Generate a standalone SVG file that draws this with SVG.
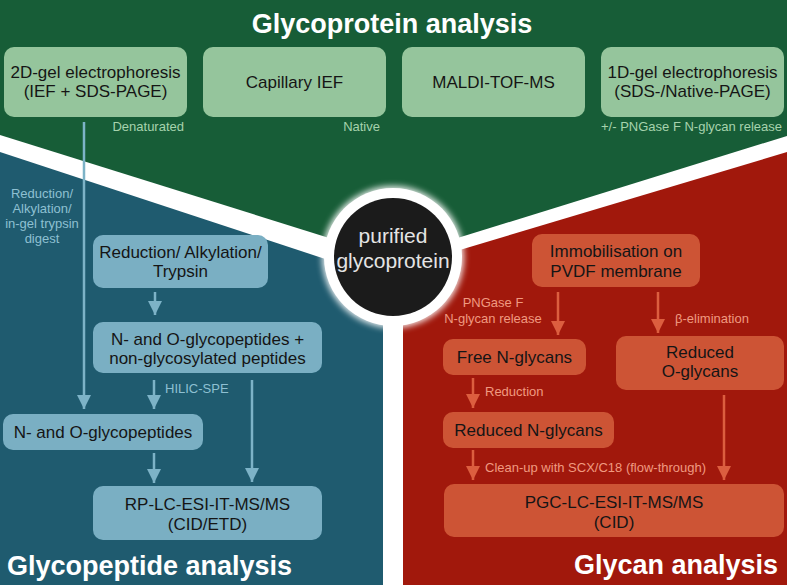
<svg xmlns="http://www.w3.org/2000/svg" width="787" height="585" viewBox="0 0 787 585">
<defs>
<style>
.box-g{fill:#95c59c}
.box-b{fill:#7aafc3}
.box-r{fill:#cd5435}
.t{font-family:"Liberation Sans",Arial,sans-serif;font-size:17px;fill:#151515;text-anchor:middle}
.lab{font-family:"Liberation Sans",Arial,sans-serif;font-size:13px}
.lg{fill:#a6d3ad}
.lb{fill:#8ec0d2}
.lr{fill:#f09a80}
.title{font-family:"Liberation Sans",Arial,sans-serif;font-size:27px;font-weight:bold;fill:#ffffff}
.cb{stroke:#7db3c7;stroke-width:2.5;fill:none}
.cr{stroke:#dc5e3f;stroke-width:2.5;fill:none}
</style>
<marker id="ab" markerUnits="userSpaceOnUse" markerWidth="14" markerHeight="14" viewBox="0 0 14 14" refX="14" refY="7" orient="auto"><path d="M0,0 L14,7 L0,14 z" fill="#7db3c7"/></marker>
<marker id="ar" markerUnits="userSpaceOnUse" markerWidth="14" markerHeight="14" viewBox="0 0 14 14" refX="14" refY="7" orient="auto"><path d="M0,0 L14,7 L0,14 z" fill="#dc5e3f"/></marker>
<filter id="glow" x="-30%" y="-30%" width="160%" height="160%"><feGaussianBlur stdDeviation="3"/></filter>
</defs>
<rect width="787" height="585" fill="#ffffff"/>
<g id="regions">
<polygon points="0,0 787,0 787,136 393,258 0,135" fill="#175d37"/>
<polygon points="0,152 383,278 383,585 0,585" fill="#1f5b6f"/>
<polygon points="403,267 787,152 787,585 403,585" fill="#a1180c"/>
</g>
<g id="center">
<circle cx="393" cy="257" r="71" fill="#ffffff" filter="url(#glow)" opacity="0.9"/>
<circle cx="393" cy="257" r="69" fill="#ffffff"/>
<circle cx="393" cy="257" r="59" fill="#1b1b1b"/>
<text x="393" y="243" font-family="Liberation Sans,Arial,sans-serif" font-size="21" fill="#e4e4e4" text-anchor="middle">purified</text>
<text x="393" y="268" font-family="Liberation Sans,Arial,sans-serif" font-size="21" fill="#e4e4e4" text-anchor="middle">glycoprotein</text>
</g>
<text class="title" x="392" y="33" text-anchor="middle">Glycoprotein analysis</text>
<text class="title" x="7" y="575">Glycopeptide analysis</text>
<text class="title" x="778" y="574" text-anchor="end">Glycan analysis</text>
<g id="n-2dgel"><rect class="box-g" x="4" y="47" width="183" height="70" rx="10"/><text class="t" x="95.5" y="78">2D-gel electrophoresis</text><text class="t" x="95.5" y="97">(IEF + SDS-PAGE)</text></g>
<g id="n-cief"><rect class="box-g" x="203" y="47" width="183" height="70" rx="10"/><text class="t" x="294.5" y="88">Capillary IEF</text></g>
<g id="n-maldi"><rect class="box-g" x="402" y="47" width="183" height="70" rx="10"/><text class="t" x="493.5" y="88">MALDI-TOF-MS</text></g>
<g id="n-1dgel"><rect class="box-g" x="601" y="47" width="183" height="70" rx="10"/><text class="t" x="692.5" y="78">1D-gel electrophoresis</text><text class="t" x="692.5" y="97">(SDS-/Native-PAGE)</text></g>
<text class="lab lg" x="184" y="131" text-anchor="end">Denaturated</text>
<text class="lab lg" x="380" y="131" text-anchor="end">Native</text>
<text class="lab lg" x="782" y="131" text-anchor="end">+/- PNGase F N-glycan release</text>
<g id="n-redalk"><rect class="box-b" x="93" y="235" width="175" height="53" rx="10"/><text class="t" x="180.5" y="258">Reduction/ Alkylation/</text><text class="t" x="180.5" y="277">Trypsin</text></g>
<g id="n-mix"><rect class="box-b" x="93" y="322" width="229" height="51" rx="10"/><text class="t" x="207.5" y="345">N- and O-glycopeptides +</text><text class="t" x="207.5" y="364">non-glycosylated peptides</text></g>
<g id="n-glycopep"><rect class="box-b" x="3" y="414" width="200" height="36" rx="10"/><text class="t" x="103" y="438">N- and O-glycopeptides</text></g>
<g id="n-rplc"><rect class="box-b" x="93" y="486" width="229" height="54" rx="10"/><text class="t" x="207.5" y="510">RP-LC-ESI-IT-MS/MS</text><text class="t" x="207.5" y="530">(CID/ETD)</text></g>
<g id="n-pvdf"><rect class="box-r" x="532" y="234" width="168" height="53" rx="10"/><text class="t" x="616" y="257">Immobilisation on</text><text class="t" x="616" y="277">PVDF membrane</text></g>
<g id="n-freen"><rect class="box-r" x="443" y="339" width="143" height="36" rx="10"/><text class="t" x="514.5" y="363">Free N-glycans</text></g>
<g id="n-redo"><rect class="box-r" x="616" y="336" width="168" height="54" rx="10"/><text class="t" x="700" y="358">Reduced</text><text class="t" x="700" y="377">O-glycans</text></g>
<g id="n-redn"><rect class="box-r" x="443" y="412" width="171" height="36" rx="10"/><text class="t" x="528.5" y="436">Reduced N-glycans</text></g>
<g id="n-pgc"><rect class="box-r" x="444" y="484" width="340" height="53" rx="10"/><text class="t" x="614" y="508">PGC-LC-ESI-IT-MS/MS</text><text class="t" x="614" y="528">(CID)</text></g>
<g id="connectors">
<line class="cb" x1="84" y1="122" x2="84" y2="409" marker-end="url(#ab)"/>
<line class="cb" x1="155" y1="292" x2="155" y2="315" marker-end="url(#ab)"/>
<line class="cb" x1="154" y1="380" x2="154" y2="409" marker-end="url(#ab)"/>
<line class="cb" x1="252" y1="380" x2="252" y2="482" marker-end="url(#ab)"/>
<line class="cb" x1="154" y1="453" x2="154" y2="483" marker-end="url(#ab)"/>
<line class="cr" x1="558" y1="292" x2="558" y2="335" marker-end="url(#ar)"/>
<line class="cr" x1="658" y1="292" x2="658" y2="333" marker-end="url(#ar)"/>
<line class="cr" x1="473" y1="378" x2="473" y2="408" marker-end="url(#ar)"/>
<line class="cr" x1="473" y1="450" x2="473" y2="480" marker-end="url(#ar)"/>
<line class="cr" x1="724" y1="395" x2="724" y2="480" marker-end="url(#ar)"/>
</g>
<g id="labels">
<text class="lab lb" x="42" y="198" text-anchor="middle">Reduction/</text>
<text class="lab lb" x="42" y="213" text-anchor="middle">Alkylation/</text>
<text class="lab lb" x="42" y="228" text-anchor="middle">in-gel trypsin</text>
<text class="lab lb" x="42" y="243" text-anchor="middle">digest</text>
<text class="lab lb" x="165" y="393">HILIC-SPE</text>
<text class="lab lr" x="493" y="307" text-anchor="middle">PNGase F</text>
<text class="lab lr" x="493" y="323" text-anchor="middle">N-glycan release</text>
<text class="lab lr" x="675" y="323">β-elimination</text>
<text class="lab lr" x="485" y="396">Reduction</text>
<text class="lab lr" x="485" y="472">Clean-up with SCX/C18 (flow-through)</text>
</g>
</svg>
